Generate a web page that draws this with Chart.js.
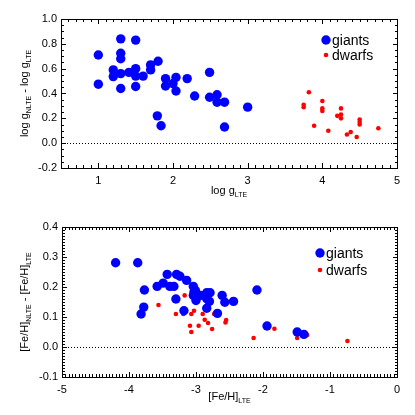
<!DOCTYPE html>
<html><head><meta charset="utf-8">
<script src="https://cdn.jsdelivr.net/npm/chart.js@4/dist/chart.umd.min.js"></script>
<style>
html,body{margin:0;padding:0;background:#fff;}
#wrap{position:relative;width:415px;height:415px;}
canvas{position:absolute;left:0;}
</style></head><body>
<div id="wrap">
<canvas id="c1" width="415" height="207" style="top:0"></canvas>
<canvas id="c2" width="415" height="208" style="top:207px"></canvas>
</div>
<script>
// ---- Top panel data: log g LTE vs Δlog g ----
const topGiantsX = [1.0,1.0,1.2,1.2,1.3,1.3,1.3,1.3,1.3,1.41,1.5,1.5,1.5,1.5,1.6,1.7,1.7,1.8,1.79,1.84,1.9,1.9,2.0,2.04,2.04,2.19,2.29,2.49,2.49,2.59,2.59,2.69,2.69,3.0];
const topGiantsY = [0.71,0.475,0.59,0.536,0.84,0.724,0.68,0.56,0.44,0.57,0.83,0.60,0.54,0.456,0.54,0.63,0.59,0.66,0.22,0.14,0.52,0.46,0.48,0.53,0.42,0.52,0.38,0.57,0.37,0.39,0.33,0.33,0.13,0.29];
const topDwarfsX = [3.82,3.75,3.75,3.89,4.0,4.0,4.0,4.08,4.25,4.2,4.25,4.25,4.33,4.38,4.46,4.5,4.5,4.5,4.75];
const topDwarfsY = [0.41,0.31,0.29,0.14,0.34,0.28,0.26,0.10,0.28,0.22,0.23,0.20,0.07,0.09,0.05,0.19,0.17,0.15,0.12];
const topXTicks = [1,2,3,4,5];
const topYTicks = [-0.2,0.0,0.2,0.4,0.6,0.8,1.0];

// ---- Bottom panel data: [Fe/H] LTE vs Δ[Fe/H] ----
const botGiantsX = [-4.2,-3.87,-3.77,-3.78,-3.82,-3.58,-3.49,-3.43,-3.39,-3.33,-3.29,-3.30,-3.24,-3.18,-3.14,-3.04,-3.01,-3.04,-3.0,-3.03,-2.93,-2.84,-2.79,-2.84,-2.80,-2.84,-2.68,-2.61,-2.57,-2.44,-2.09,-1.94,-1.49,-1.39];
const botGiantsY = [0.281,0.281,0.19,0.133,0.11,0.202,0.213,0.242,0.202,0.202,0.242,0.16,0.236,0.121,0.222,0.202,0.189,0.172,0.155,0.183,0.172,0.181,0.181,0.161,0.152,0.129,0.112,0.172,0.149,0.152,0.19,0.07,0.05,0.042];
const botDwarfsX = [-3.56,-3.30,-3.17,-3.19,-3.09,-3.07,-3.07,-3.03,-2.96,-2.90,-2.87,-2.82,-2.76,-2.73,-2.56,-2.55,-1.83,-2.14,-1.49,-1.34,-0.74];
const botDwarfsY = [0.14,0.11,0.172,0.11,0.071,0.05,0.11,0.121,0.071,0.11,0.091,0.08,0.06,0.11,0.082,0.09,0.061,0.03,0.03,0.04,0.02];
const botXTicks = [-5,-4,-3,-2,-1,0];
const botYTicks = [-0.1,0.0,0.1,0.2,0.3,0.4];

const seriesNames = ['giants','dwarfs'];
const FONT = '"Liberation Sans", Arial, sans-serif';

function pts(xs, ys){ return xs.map((x,i)=>({x:x,y:ys[i]})); }

function drawRich(ctx, parts, size){
  let w=0;
  parts.forEach(p=>{
    ctx.font = (p.sub? Math.round(size*0.68):size)+'px '+FONT;
    w += ctx.measureText(p.t).width;
  });
  let x=-w/2;
  parts.forEach(p=>{
    ctx.font = (p.sub? Math.round(size*0.68):size)+'px '+FONT;
    ctx.fillText(p.t, x, p.sub? size*0.3 : 0);
    x += ctx.measureText(p.t).width;
  });
}

function makeFramePlugin(o){
  return {
    id:'frame_'+o.name,
    beforeDatasetsDraw(chart){
      const ctx = chart.ctx, ca = chart.chartArea, ys = chart.scales.y;
      const yp = Math.round(ys.getPixelForValue(0))+0.5;
      ctx.save();
      ctx.strokeStyle='#000'; ctx.lineWidth=1; ctx.setLineDash([1,2]);
      ctx.beginPath(); ctx.moveTo(ca.left,yp); ctx.lineTo(ca.right,yp); ctx.stroke();
      ctx.restore();
    },
    afterDraw(chart){
      const ctx = chart.ctx, ca = chart.chartArea, xs = chart.scales.x, ys = chart.scales.y;
      const L0=Math.round(ca.left), R0=Math.round(ca.right), T0=Math.round(ca.top), B0=Math.round(ca.bottom);
      ctx.save();
      ctx.setLineDash([]);
      ctx.globalAlpha=1;
      ctx.fillStyle='#000';
      ctx.fillRect(L0, T0, R0-L0+1, 1);
      ctx.fillRect(L0, B0, R0-L0+1, 1);
      ctx.fillRect(L0, T0, 1, B0-T0+1);
      ctx.fillRect(R0, T0, 1, B0-T0+1);
      const doTicks=(min,max,minor,major,cb)=>{
        const n=Math.round((max-min)/minor);
        for(let i=0;i<=n;i++){
          const v=min+i*minor;
          const isMaj=Math.abs(v/major-Math.round(v/major))<1e-6;
          cb(v,isMaj?5:3);
        }
      };
      doTicks(xs.min,xs.max,o.xMinor,o.xMajor,(v,len)=>{
        const px=Math.round(xs.getPixelForValue(v));
        ctx.fillRect(px,B0-len,1,len);
        ctx.fillRect(px,T0,1,len);
      });
      doTicks(ys.min,ys.max,o.yMinor,o.yMajor,(v,len)=>{
        const py=Math.round(ys.getPixelForValue(v));
        ctx.fillRect(L0,py,len,1);
        ctx.fillRect(R0-len+1,py,len,1);
      });
      ctx.textBaseline='alphabetic'; ctx.textAlign='left';
      ctx.save(); ctx.translate((ca.left+ca.right)/2, o.xTitleY); drawRich(ctx,o.xTitle,11); ctx.restore();
      ctx.save(); ctx.translate(o.yTitleX,(ca.top+ca.bottom)/2); ctx.rotate(-Math.PI/2); drawRich(ctx,o.yTitle,11); ctx.restore();
      const lg=o.legend;
      ctx.textBaseline='middle'; ctx.font='14px '+FONT;
      chart.data.datasets.forEach((ds,i)=>{
        const ly=lg.y+i*lg.dy;
        ctx.fillStyle=ds.backgroundColor;
        ctx.beginPath(); ctx.arc(lg.x, ly, ds.pointRadius,0,Math.PI*2); ctx.fill();
        ctx.fillStyle='#000';
        ctx.fillText(ds.label, lg.x+6, ly+1);
      });
      ctx.restore();
    }
  };
}

function makeChart(id, gx, gy, dx, dy, xr, yr, xt, yt, frameOpts, yWidth, padTop, padBottom){
  return new Chart(document.getElementById(id), {
    type:'scatter',
    data:{datasets:[
      {label:seriesNames[0], data:pts(gx,gy), backgroundColor:'#0000ff', borderWidth:0, pointRadius:4.7},
      {label:seriesNames[1], data:pts(dx,dy), backgroundColor:'#ff0000', borderWidth:0, pointRadius:2.3}
    ]},
    options:{
      responsive:false, animation:false, devicePixelRatio:1,
      layout:{padding:{left:0,right:18,top:padTop,bottom:padBottom}},
      plugins:{legend:{display:false}, tooltip:{enabled:false}},
      scales:{
        x:{type:'linear', min:xr[0], max:xr[1], grid:{display:false, drawTicks:false}, border:{display:false},
           afterBuildTicks:s=>{s.ticks=xt.map(v=>({value:v}));},
           afterFit:s=>{s.height=20;},
           ticks:{color:'#000', font:{family:FONT,size:11}, padding:6, maxRotation:0, callback:v=>String(v)}},
        y:{type:'linear', min:yr[0], max:yr[1], grid:{display:false, drawTicks:false}, border:{display:false},
           afterBuildTicks:s=>{s.ticks=yt.map(v=>({value:v}));},
           afterFit:s=>{s.width=yWidth;},
           ticks:{color:'#000', font:{family:FONT,size:11}, padding:4, callback:v=>Number(v).toFixed(1)}}
      }
    },
    plugins:[makeFramePlugin(frameOpts)]
  });
}

makeChart('c1', topGiantsX, topGiantsY, topDwarfsX, topDwarfsY, [0.5,5], [-0.2,1.0], topXTicks, topYTicks,
  {name:'a', xMinor:0.1,xMajor:1,yMinor:0.05,yMajor:0.2, xTitleY:194, yTitleX:28,
   xTitle:[{t:'log g'},{t:'LTE',sub:true}],
   yTitle:[{t:'log g'},{t:'NLTE',sub:true},{t:' - log g'},{t:'LTE',sub:true}],
   legend:{x:326,y:40,dy:15}}, 61, 19, 19);

makeChart('c2', botGiantsX, botGiantsY, botDwarfsX, botDwarfsY, [-5,0], [-0.1,0.4], botXTicks, botYTicks,
  {name:'b', xMinor:0.05,xMajor:1,yMinor:0.01,yMajor:0.1, xTitleY:193, yTitleX:28,
   xTitle:[{t:'[Fe/H]'},{t:'LTE',sub:true}],
   yTitle:[{t:'[Fe/H]'},{t:'NLTE',sub:true},{t:' - [Fe/H]'},{t:'LTE',sub:true}],
   legend:{x:320,y:46,dy:17}}, 62, 20, 18);
</script>
</body></html>
